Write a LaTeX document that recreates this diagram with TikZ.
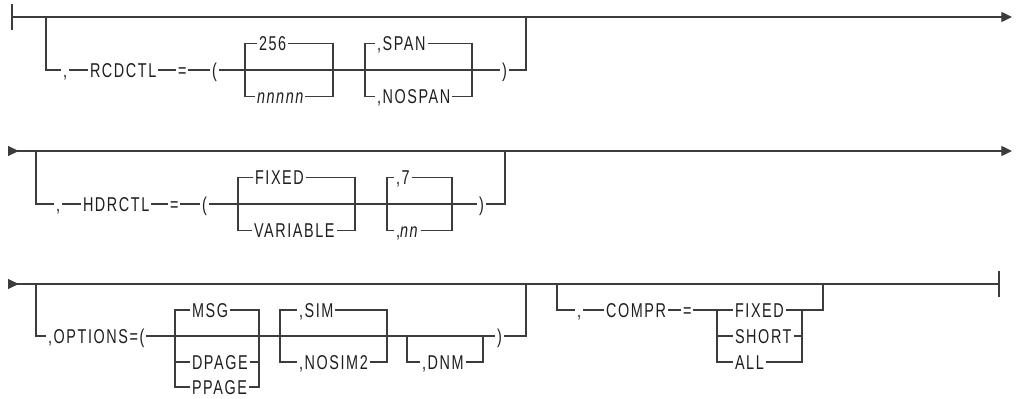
\documentclass[tikz,border=0pt]{standalone}
\usepackage{fontspec}
\setmainfont{Liberation Sans}[FakeStretch=0.72,LetterSpace=8]
\usetikzlibrary{arrows.meta}
\definecolor{RailGray}{HTML}{3C3C3C}
\definecolor{InkBlack}{HTML}{1E1E1E}

\begin{document}
\begin{tikzpicture}[x=0.75pt,y=-0.75pt,line width=0.95pt,color=RailGray,
  every node/.style={anchor=west,inner sep=0pt,outer sep=1.5pt,text height=10.7pt,text depth=0pt,text=InkBlack,font=\fontsize{15}{17}\selectfont},
  endtip/.style={-{Triangle[length=8pt,width=7.5pt]}},
  bothtip/.style={{Triangle[length=8pt,width=7.5pt,reversed]}-{Triangle[length=8pt,width=7.5pt]}},
  starttip/.style={{Triangle[length=8pt,width=7.5pt,reversed]}-}]
  \useasboundingbox (0,0) rectangle (1016,399);

  \coordinate (r1start) at (12,17);
  \coordinate (r1split) at (46,17);
  \coordinate (r1join) at (526,17);
  \coordinate (r1end) at (1012,17);
  \draw[endtip] (r1start) -- (r1end);
  \draw ([yshift=9.75pt]r1start) -- ([yshift=-9.75pt]r1start);
  \node (r1comma) at (61,70) {,};
  \node (rcdctl) at (88,70) {RCDCTL};
  \node (r1eq) at (176,70) {=};
  \node (r1lpar) at (210,70) {(};
  \node (v256) at (257,43.5) {256};
  \node (vnnnnn) at (255,96.5) {\itshape nnnnn};
  \node (vspan) at (375,43.5) {,SPAN};
  \node (vnospan) at (375,96.5) {,NOSPAN};
  \node (r1rpar) at (500,70) {)};
  \coordinate (b256l) at (245,70);
  \coordinate (b256r) at (333,70);
  \coordinate (bspanl) at (365,70);
  \coordinate (bspanr) at (472,70);
  \draw (r1split) |- (r1comma.west);
  \draw (r1comma) -- (rcdctl) -- (r1eq) -- (r1lpar) -- (r1rpar);
  \draw (r1rpar.east) -| (r1join);
  \draw (v256.west) -| (b256l) |- (vnnnnn.west);
  \draw (v256.east) -| (b256r) |- (vnnnnn.east);
  \draw (vspan.west) -| (bspanl) |- (vnospan.west);
  \draw (vspan.east) -| (bspanr) |- (vnospan.east);

  \coordinate (r2start) at (8,151);
  \coordinate (r2split) at (36,151);
  \coordinate (r2join) at (505,151);
  \coordinate (r2end) at (1012,151);
  \draw[bothtip] (r2start) -- (r2end);
  \node (r2comma) at (54,204) {,};
  \node (hdrctl) at (81,204) {HDRCTL};
  \node (r2eq) at (168,204) {=};
  \node (r2lpar) at (200,204) {(};
  \node (vfixed) at (253,177.5) {FIXED};
  \node (vvariable) at (252,230.5) {VARIABLE};
  \node (vseven) at (394,177.5) {,7};
  \node (vnn) at (394,230.5) {,\textit{nn}};
  \node (r2rpar) at (477,204) {)};
  \coordinate (bfixl) at (238,204);
  \coordinate (bfixr) at (355,204);
  \coordinate (bsevl) at (387,204);
  \coordinate (bsevr) at (452,204);
  \draw (r2split) |- (r2comma.west);
  \draw (r2comma) -- (hdrctl) -- (r2eq) -- (r2lpar) -- (r2rpar);
  \draw (r2rpar.east) -| (r2join);
  \draw (vfixed.west) -| (bfixl) |- (vvariable.west);
  \draw (vfixed.east) -| (bfixr) |- (vvariable.east);
  \draw (vseven.west) -| (bsevl) |- (vnn.west);
  \draw (vseven.east) -| (bsevr) |- (vnn.east);

  \coordinate (r3start) at (8,284);
  \coordinate (r3split) at (36,284);
  \coordinate (r3join) at (526,284);
  \coordinate (r3csplit) at (557,284);
  \coordinate (r3cjoin) at (823,284);
  \coordinate (r3end) at (999,284);
  \draw[starttip] (r3start) -- (r3end);
  \draw ([yshift=9.4pt]r3end) -- ([yshift=-9.4pt]r3end);
  \node (options) at (46,336) {,OPTIONS=(};
  \node (vmsg) at (190,310) {MSG};
  \node (vdpage) at (190,362) {DPAGE};
  \node (vppage) at (190,387) {PPAGE};
  \node (vsim) at (297,310) {,SIM};
  \node (vnosim) at (297,362) {,NOSIM2};
  \node (vdnm) at (420,362) {,DNM};
  \node (r3rpar) at (495,336) {)};
  \coordinate (bmsgl) at (175,336);
  \coordinate (bmsgr) at (259,336);
  \coordinate (bsiml) at (280,336);
  \coordinate (bsimr) at (387,336);
  \coordinate (bdnml) at (407,336);
  \coordinate (bdnmr) at (483,336);
  \draw (r3split) |- (options.west);
  \draw (options) -- (r3rpar);
  \draw (r3rpar.east) -| (r3join);
  \draw (vmsg.west) -| (bmsgl) |- (vppage.west);
  \draw (bmsgl) |- (vdpage.west);
  \draw (vmsg.east) -| (bmsgr) |- (vppage.east);
  \draw (bmsgr) |- (vdpage.east);
  \draw (vsim.west) -| (bsiml) |- (vnosim.west);
  \draw (vsim.east) -| (bsimr) |- (vnosim.east);
  \draw (bdnml) |- (vdnm.west);
  \draw (vdnm.east) -| (bdnmr);

  \node (c3comma) at (575,310) {,};
  \node (compr) at (604,310) {COMPR};
  \node (c3eq) at (681,310) {=};
  \node (cfixed) at (733,310) {FIXED};
  \node (cshort) at (733,336) {SHORT};
  \node (call) at (733,362) {ALL};
  \coordinate (cbl) at (717,310);
  \coordinate (cbr) at (802,310);
  \draw (r3csplit) |- (c3comma.west);
  \draw (c3comma) -- (compr) -- (c3eq) -- (cfixed);
  \draw (cfixed.east) -| (r3cjoin);
  \draw (cbl) |- (cshort.west);
  \draw (cbl) |- (call.west);
  \draw (cshort.east) -| (cbr);
  \draw (call.east) -| (cbr);
\end{tikzpicture}
\end{document}
